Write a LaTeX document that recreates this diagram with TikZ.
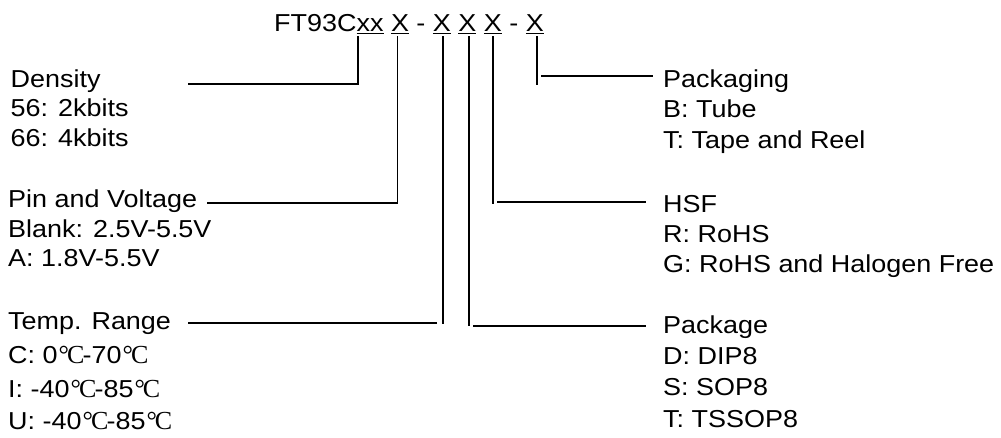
\documentclass[tikz,border=0pt]{standalone}
\usepackage{fontspec}
\setmainfont{Liberation Sans}[FakeStretch=1.1]
\newfontfamily\degfont{Liberation Serif}
\newcommand{\dgc}{\makebox[25pt][l]{\fontsize{26}{29}\degfont\kern1pt°\kern-2pt C}}
\newcommand{\ulx}[1]{\setbox0\hbox{#1}\rlap{\raisebox{-3.4pt}{\rule{\wd0}{1.2pt}}}\box0\relax}
\begin{document}
\begin{tikzpicture}[x=1pt,y=-1pt,
  lbl/.style={anchor=base west, inner sep=0pt, font=\fontsize{24.5}{29}\selectfont},
  conn/.style={line width=1.2pt}]
\useasboundingbox[fill=white] (0,0) rectangle (1001,437);

% title
\node[lbl] (title) at (274,31) {FT93C\ulx{xx} \ulx{X} - \ulx{X} \ulx{X} \ulx{X} - \ulx{X}};

% left labels
\node[lbl] (den1) at (10.5,87) {Density};
\node[lbl] (den2) at (10.5,116.5) {56: 2kbits};
\node[lbl] (den3) at (10.5,146) {66: 4kbits};

\node[lbl] (pin1) at (8,207) {Pin and Voltage};
\node[lbl] (pin2) at (8,237) {Blank: 2.5V-5.5V};
\node[lbl] (pin3) at (8,266) {A: 1.8V-5.5V};

\node[lbl] (tmp1) at (8,329) {Temp. Range};
\node[lbl] (tmp2) at (8,363) {C: 0\dgc-70\dgc};
\node[lbl] (tmp3) at (8,397) {I: -40\dgc-85\dgc};
\node[lbl] (tmp4) at (8,429) {U: -40\dgc-85\dgc};

% right labels
\node[lbl] (pkg1) at (663,87) {Packaging};
\node[lbl] (pkg2) at (663,117) {B: Tube};
\node[lbl] (pkg3) at (663,148) {T: Tape and Reel};

\node[lbl] (hsf1) at (663,212) {HSF};
\node[lbl] (hsf2) at (663,242) {R: RoHS};
\node[lbl] (hsf3) at (663,272) {G: RoHS and Halogen Free};

\node[lbl] (pk1) at (663,333) {Package};
\node[lbl] (pk2) at (663,364) {D: DIP8};
\node[lbl] (pk3) at (663,395) {S: SOP8};
\node[lbl] (pk4) at (663,427) {T: TSSOP8};

% connector coordinates
\coordinate (dA) at (358,36);  \coordinate (dB) at (358,84);  \coordinate (dC) at (188,84);
\coordinate (pA) at (397.5,36);\coordinate (pB) at (397.5,203);\coordinate (pC) at (207,203);
\coordinate (tA) at (443,36);  \coordinate (tB) at (443,324); \coordinate (tC) at (437,323); \coordinate (tD) at (188,323);
\coordinate (kA) at (469,36);  \coordinate (kB) at (469,326); \coordinate (kC) at (473,326); \coordinate (kD) at (646,326);
\coordinate (hA) at (493,36);  \coordinate (hB) at (493,204); \coordinate (hC) at (497,202); \coordinate (hD) at (646,202);
\coordinate (gA) at (537,36);  \coordinate (gB) at (537,85);  \coordinate (gC) at (541,76);  \coordinate (gD) at (653,76);

\draw[conn] (dA) -- (dB) -- (dC);
\draw[conn] (pA) -- (pB) -- (pC);
\draw[conn] (tA) -- (tB);
\draw[conn] (tC) -- (tD);
\draw[conn] (kA) -- (kB);
\draw[conn] (kC) -- (kD);
\draw[conn] (hA) -- (hB);
\draw[conn] (hC) -- (hD);
\draw[conn] (gA) -- (gB);
\draw[conn] (gC) -- (gD);
\end{tikzpicture}
\end{document}
